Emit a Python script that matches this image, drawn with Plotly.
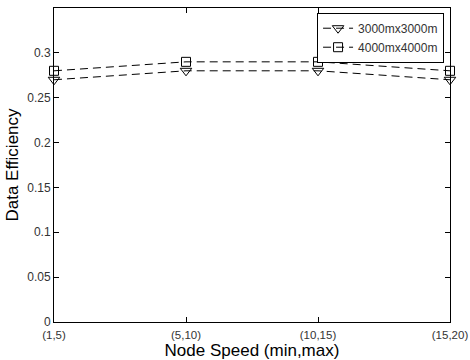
import plotly.graph_objects as go

categories = ["(1,5)", "(5,10)", "(10,15)", "(15,20)"]
eff_3000 = [0.27, 0.28, 0.28, 0.27]
eff_4000 = [0.28, 0.29, 0.29, 0.28]
y_ticks = [0, 0.05, 0.1, 0.15, 0.2, 0.25, 0.3]
y_tick_labels = ["0", "0.05", "0.1", "0.15", "0.2", "0.25", "0.3"]

xpos = list(range(len(categories)))

fig = go.Figure()
fig.add_trace(go.Scatter(
    x=xpos, y=eff_3000, name="3000mx3000m", mode="lines+markers",
    line=dict(color="black", width=1, dash="8px,5px"),
    marker=dict(symbol="triangle-down-open", size=10, color="black", line=dict(width=1)),
    cliponaxis=False,
))
fig.add_trace(go.Scatter(
    x=xpos, y=eff_4000, name="4000mx4000m", mode="lines+markers",
    line=dict(color="black", width=1, dash="8px,5px"),
    marker=dict(symbol="square-open", size=9, color="black", line=dict(width=1)),
    cliponaxis=False,
))

fig.update_layout(
    width=470, height=360,
    margin=dict(l=54, r=20, t=8, b=38),
    paper_bgcolor="white", plot_bgcolor="white",
    font=dict(family="Liberation Sans, Arial, sans-serif", color="black"),
    showlegend=True,
    legend=dict(
        x=0.985, y=0.985, xanchor="right", yanchor="top",
        bordercolor="black", borderwidth=1, bgcolor="white",
        font=dict(size=12, color="#333333"),
        tracegroupgap=0, itemwidth=30,
    ),
    xaxis=dict(
        range=[0, 3], tickmode="array", tickvals=xpos, ticktext=categories,
        ticks="inside", ticklen=5, tickcolor="black", showgrid=False, zeroline=False,
        showline=True, linecolor="black", linewidth=1, mirror="ticks",
        tickfont=dict(size=11.5, color="#333333"), ticklabeloverflow="allow",
        ticklabelstandoff=2, automargin=False,
        title=dict(text="Node Speed (min,max)", font=dict(size=17), standoff=0),
    ),
    yaxis=dict(
        range=[0, 0.35], tickmode="array", tickvals=y_ticks, ticktext=y_tick_labels,
        ticks="inside", ticklen=5, tickcolor="black", showgrid=False, zeroline=False,
        showline=True, linecolor="black", linewidth=1, mirror="ticks",
        tickfont=dict(size=12, color="#333333"), automargin=False,
        title=dict(text="Data Efficiency", font=dict(size=17), standoff=4),
    ),
)

fig.write_html("out.html")
